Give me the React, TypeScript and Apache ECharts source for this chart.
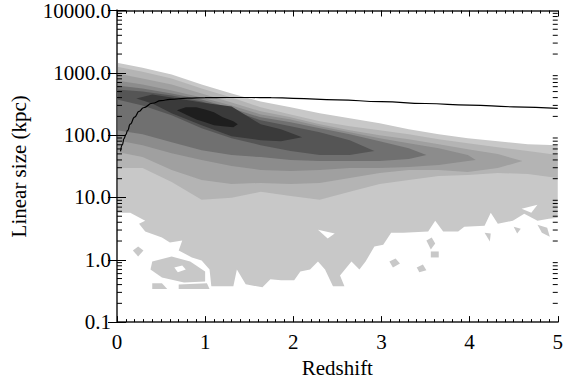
import React, { useEffect, useRef } from 'react';
import * as echarts from 'echarts';

const FONT = 'Liberation Serif';

// ---- data ----
const zGrid = [0, 0.29, 0.62, 0.96, 1.3, 1.63, 1.97, 2.3, 2.64, 2.98, 3.31, 3.65, 3.98, 4.32, 4.66, 5.0];

// level 1 (lightest)
const l1Top = [1454, 1210, 936, 648, 466, 347, 279, 224, 186, 155, 124, 103, 89.2, 79.9, 71.6, 69.0];
const l1BottomZ = [0, 0.15, 0.32, 0.25, 0.32, 0.51, 0.6, 0.74, 0.7, 0.85, 0.96, 1.05, 1.07, 1.32, 1.36, 1.46, 1.65, 1.74, 1.86, 2.01, 2.08, 2.19, 2.28, 2.36, 2.45, 2.58, 2.53, 2.66, 2.75, 2.82, 2.92, 3.02, 3.11, 3.25, 3.53, 3.61, 3.7, 3.87, 3.94, 4.17, 4.24, 4.32, 4.49, 4.62, 4.77, 4.9, 5.0];
const l1BottomV = [5.68, 5.68, 4.24, 3.79, 2.83, 2.27, 1.89, 2.03, 1.41, 1.09, 0.975, 0.7, 0.375, 0.375, 0.7, 0.404, 0.361, 0.485, 0.468, 0.468, 0.651, 0.7, 0.939, 0.7, 0.375, 0.375, 0.562, 0.939, 0.7, 0.939, 1.63, 1.75, 2.72, 2.72, 2.83, 4.24, 2.83, 2.83, 3.4, 3.52, 5.68, 3.79, 4.24, 5.47, 4.24, 4.56, 4.73];

// level 2
const l2Top = [1256, 1045, 808, 560, 402, 279, 215, 167, 139, 120, 103, 86.0, 74.3, 64.1, 55.4, 47.8];
const l2Bottom = [29.7, 29.7, 17.7, 9.16, 9.85, 12.3, 10.6, 9.16, 12.3, 16.5, 19.1, 22.1, 22.9, 24.7, 23.8, 20.5];

// level 3
const l3Z = [0, 0.29, 0.62, 0.96, 1.3, 1.63, 1.97, 2.3, 2.64, 2.98, 3.31, 3.65, 3.98, 4.32, 4.6];
const l3Top = [971, 808, 648, 466, 335, 241, 193, 149, 120, 99.6, 86.0, 71.6, 59.6, 49.6, 38.3];
const l3Bottom = [53.4, 44.4, 27.6, 19.1, 16.5, 17.1, 16.5, 17.1, 20.5, 24.7, 27.6, 27.6, 25.6, 29.7, 38.3];

// level 4
const l4Z = [0, 0.29, 0.62, 0.96, 1.3, 1.63, 1.97, 2.3, 2.64, 2.98, 3.31, 3.65, 3.98, 4.07];
const l4Top = [751, 648, 520, 402, 300, 215, 179, 139, 111, 89.2, 74.3, 61.8, 47.8, 39.8];
const l4Bottom = [82.9, 69.0, 51.4, 39.8, 31.9, 27.6, 26.6, 27.6, 29.7, 29.7, 30.8, 33.1, 38.3, 39.8];

// level 5
const l5Z = [0, 0.29, 0.62, 0.96, 1.3, 1.63, 1.97, 2.3, 2.64, 2.98, 3.31, 3.51];
const l5Top = [625, 560, 466, 374, 269, 193, 161, 129, 103, 79.9, 61.8, 47.8];
const l5Bottom = [120, 103, 77.1, 57.4, 47.8, 44.4, 39.8, 38.3, 38.3, 38.3, 41.3, 47.8];

// level 6
const l6Z = [0, 0.29, 0.62, 0.96, 1.3, 1.63, 1.97, 2.3, 2.64, 2.92];
const l6Top = [540, 501, 433, 347, 250, 173, 139, 111, 82.9, 55.4];
const l6Bottom = [374, 300, 208, 129, 89.2, 69.0, 55.4, 47.8, 47.8, 55.4];

// level 7
const l7Z = [0.22, 0.4, 0.62, 0.96, 1.3, 1.63, 1.86, 2.1];
const l7Top = [388, 449, 402, 335, 289, 149, 124, 92.6];
const l7Bottom = [388, 323, 224, 144, 96, 82.9, 79.9, 92.6];

// level 8 (core)
const l8Z = [0.68, 0.78, 0.9, 1.0, 1.1, 1.2, 1.32, 1.37];
const l8Top = [250, 279, 279, 259, 232, 193, 167, 149];
const l8Bottom = [250, 215, 179, 161, 144, 139, 134, 149];

// isolated light patches and white holes [z, kpc]
const lightIslands = [
  [[0.18, 1.41], [0.24, 1.63], [0.3, 1.41], [0.24, 1.13]],
  [[0.4, 0.94], [0.62, 1.13], [0.83, 0.94], [1.0, 0.65], [1.0, 0.45], [0.76, 0.43], [0.51, 0.52], [0.38, 0.7]],
  [[0.4, 0.42], [0.51, 0.42], [0.57, 0.34], [0.4, 0.34]],
  [[0.7, 0.4], [1.02, 0.42], [1.05, 0.34], [0.7, 0.34]],
  [[3.09, 0.94], [3.16, 1.05], [3.21, 0.87], [3.13, 0.75]],
  [[3.4, 0.75], [3.47, 0.84], [3.51, 0.68], [3.43, 0.63]],
  [[3.56, 1.36], [3.65, 1.36], [3.65, 1.09], [3.56, 1.09]],
  [[3.51, 2.03], [3.57, 2.27], [3.61, 1.82], [3.56, 1.46]],
  [[4.17, 2.72], [4.24, 2.63], [4.23, 1.96]],
  [[4.5, 3.4], [4.58, 3.16], [4.54, 2.63]],
  [[4.77, 3.66], [4.88, 3.27], [4.91, 2.35], [4.82, 2.72]],
];
const whiteHoles = [
  [[2.28, 3.04], [2.47, 2.63], [2.39, 2.2]],
  [[4.59, 6.58], [4.77, 7.62], [4.7, 5.68]],
  [[0.65, 0.75], [0.74, 0.81], [0.78, 0.7], [0.69, 0.63]],
];

// angular-size curve
const curveZ = [0.04, 0.06, 0.08, 0.1, 0.12, 0.15, 0.2, 0.25, 0.3, 0.4, 0.5, 0.6, 0.8, 1.0, 1.25, 1.5, 1.75, 2.0, 2.5, 3.0, 3.5, 4.0, 4.5, 5.0];
const curveV = [55, 70, 88, 102, 118, 150, 195, 240, 275, 325, 358, 376, 392, 400, 402, 402, 400, 390, 368, 345, 322, 303, 285, 268];

const levelColors = ['#c8c8c8', '#b4b4b4', '#a0a0a0', '#8c8c8c', '#707070', '#555555', '#3a3a3a', '#1e1e1e'];
const minorMult = [2, 3, 4, 5, 6, 7, 8, 9];
const decades = [0.1, 1, 10, 100, 1000];

function band(zs: number[], top: number[], bottom: number[]): number[][] {
  const pts: number[][] = [];
  for (let i = 0; i < zs.length; i++) pts.push([zs[i], top[i]]);
  for (let i = zs.length - 1; i >= 0; i--) pts.push([zs[i], bottom[i]]);
  return pts;
}

export default function App() {
  const ref = useRef<HTMLDivElement>(null);
  useEffect(() => {
    document.body.style.margin = '0';
    if (!ref.current) return;
    const chart = echarts.init(ref.current, undefined, { renderer: 'svg' });

    const polys: { pts: number[][]; fill: string }[] = [];
    const l1: number[][] = zGrid.map((z, i) => [z, l1Top[i]]);
    for (let i = l1BottomZ.length - 1; i >= 0; i--) l1.push([l1BottomZ[i], l1BottomV[i]]);
    polys.push({ pts: l1, fill: levelColors[0] });
    lightIslands.forEach((p) => polys.push({ pts: p, fill: levelColors[0] }));
    whiteHoles.forEach((p) => polys.push({ pts: p, fill: '#ffffff' }));
    polys.push({ pts: band(zGrid, l2Top, l2Bottom), fill: levelColors[1] });
    polys.push({ pts: band(l3Z, l3Top, l3Bottom), fill: levelColors[2] });
    polys.push({ pts: band(l4Z, l4Top, l4Bottom), fill: levelColors[3] });
    polys.push({ pts: band(l5Z, l5Top, l5Bottom), fill: levelColors[4] });
    polys.push({ pts: band(l6Z, l6Top, l6Bottom), fill: levelColors[5] });
    polys.push({ pts: band(l7Z, l7Top, l7Bottom), fill: levelColors[6] });
    polys.push({ pts: band(l8Z, l8Top, l8Bottom), fill: levelColors[7] });

    const minorVals: number[] = [];
    decades.forEach((d) => minorMult.forEach((m) => minorVals.push(m * d)));

    const textStyle = { fontFamily: FONT, fontSize: 21, color: '#000' };
    const axisLine = { show: true, lineStyle: { color: '#555', width: 2 } };

    const xBase = {
      type: 'value',
      min: 0,
      max: 5,
      interval: 1,
      z: 10,
      axisLine,
      axisTick: { show: true, inside: true, length: 6, lineStyle: { color: '#000', width: 1 } },
      minorTick: { show: true, splitNumber: 10, length: 3, lineStyle: { color: '#000', width: 1 } },
      splitLine: { show: false },
      minorSplitLine: { show: false },
    };
    const yBase = {
      type: 'log',
      logBase: 10,
      min: 0.1,
      max: 10000,
      z: 10,
      axisLine,
      axisTick: { show: true, inside: true, length: 9, lineStyle: { color: '#000', width: 1 } },
      splitLine: { show: false },
    };

    chart.setOption({
      animation: false,
      backgroundColor: '#ffffff',
      textStyle: { fontFamily: FONT },
      grid: { left: 114, right: 5, top: 9, bottom: 60 },
      xAxis: [
        {
          ...xBase,
          position: 'bottom',
          axisLabel: { ...textStyle, margin: 9 },
          name: 'Redshift',
          nameLocation: 'middle',
          nameGap: 31,
          nameTextStyle: textStyle,
        },
        { ...xBase, position: 'top', axisLabel: { show: false } },
      ],
      yAxis: [
        {
          ...yBase,
          position: 'left',
          axisLabel: { ...textStyle, margin: 6, formatter: (v: number) => Number(v).toFixed(1) },
          name: 'Linear size (kpc)',
          nameLocation: 'middle',
          nameRotate: 90,
          nameGap: 88,
          nameTextStyle: textStyle,
        },
        { ...yBase, position: 'right', axisLabel: { show: false } },
      ],
      series: [
        {
          type: 'custom',
          xAxisIndex: 0,
          yAxisIndex: 0,
          silent: true,
          z: 2,
          encode: { x: 0, y: 1 },
          data: polys.map((p, i) => [p.pts[0][0], p.pts[0][1], i]),
          renderItem: (params: any, api: any) => {
            const s = polys[params.dataIndex];
            const points = s.pts.map((p) => api.coord(p));
            return { type: 'polygon', shape: { points }, style: { fill: s.fill, stroke: null } };
          },
        },
        {
          type: 'line',
          xAxisIndex: 0,
          yAxisIndex: 0,
          z: 5,
          silent: true,
          showSymbol: false,
          smooth: true,
          smoothMonotone: 'x',
          data: curveZ.map((z, i) => [z, curveV[i]]),
          lineStyle: { color: '#000', width: 1.2 },
        },
        {
          type: 'custom',
          xAxisIndex: 0,
          yAxisIndex: 0,
          silent: true,
          z: 11,
          encode: { x: 0, y: 1 },
          data: minorVals.map((v) => [0, v]),
          renderItem: (params: any, api: any) => {
            const v = api.value(1);
            const l = api.coord([0, v]);
            const r = api.coord([5, v]);
            return {
              type: 'group',
              children: [
                { type: 'line', shape: { x1: l[0], y1: l[1], x2: l[0] + 5, y2: l[1] }, style: { stroke: '#000', lineWidth: 1 } },
                { type: 'line', shape: { x1: r[0] - 5, y1: r[1], x2: r[0], y2: r[1] }, style: { stroke: '#000', lineWidth: 1 } },
              ],
            };
          },
        },
      ],
    });
    return () => chart.dispose();
  }, []);
  return <div ref={ref} style={{ width: 566, height: 383 }} />;
}
